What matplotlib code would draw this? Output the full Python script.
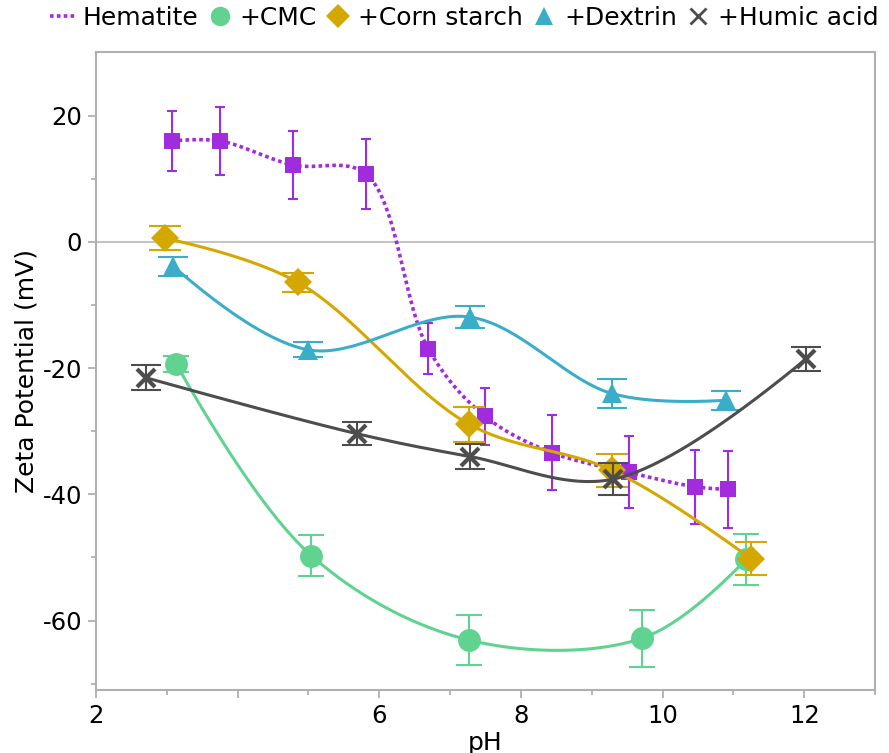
import numpy as np
import matplotlib
matplotlib.use("Agg")
import matplotlib.pyplot as plt
from matplotlib.lines import Line2D

plt.rcParams["font.family"] = "DejaVu Sans"

# data
hem_ph = [3.07, 3.75, 4.78, 5.81, 6.69, 7.49, 8.44, 9.52, 10.46, 10.92]
hem_zeta = [16.0, 16.0, 12.2, 10.8, -16.9, -27.6, -33.4, -36.5, -38.8, -39.2]
hem_err = [4.75, 5.4, 5.4, 5.5, 4.0, 4.5, 5.9, 5.7, 5.9, 6.1]

cmc_ph = [3.13, 5.04, 7.27, 9.71, 11.18]
cmc_zeta = [-19.3, -49.7, -63.1, -62.8, -50.3]
cmc_err = [1.3, 3.2, 4.0, 4.5, 4.0]

corn_ph = [2.97, 4.85, 7.27, 9.29, 11.25]
corn_zeta = [0.6, -6.4, -28.9, -36.2, -50.2]
corn_err = [1.9, 1.5, 2.8, 2.6, 2.6]

dex_ph = [3.09, 5.00, 7.28, 9.28, 10.89]
dex_zeta = [-3.85, -17.1, -11.9, -24.0, -25.1]
dex_err = [1.5, 1.2, 1.75, 2.3, 1.5]

hum_ph = [2.70, 5.69, 7.28, 9.30, 12.03]
hum_zeta = [-21.5, -30.4, -34.0, -37.6, -18.5]
hum_err = [2.0, 1.8, 1.95, 2.5, 1.9]

PURPLE = "#a12cdd"
GREEN = "#5fd38f"
GOLD = "#d4a800"
BLUE = "#3aaec9"
GRAY = "#4d4d4d"

# px per data unit, used so the spline is computed like plotly does (in pixel space)
SX, SY = 70.84, 6.315


def spline(x, y, smooth=1.0, nseg=40):
    pts = np.column_stack([np.asarray(x) * SX, np.asarray(y) * SY])
    n = len(pts)
    tan = []
    for i in range(1, n - 1):
        d1 = pts[i - 1] - pts[i]
        d2 = pts[i + 1] - pts[i]
        d1a = np.hypot(*d1) ** 0.5
        d2a = np.hypot(*d2) ** 0.5
        num = (d2a * d2a * d1 - d1a * d1a * d2) * smooth
        tan.append((pts[i] + num / (3 * d2a * (d1a + d2a)),
                    pts[i] - num / (3 * d1a * (d1a + d2a))))
    t = np.linspace(0, 1, nseg)[:, None]
    out = []
    # first segment: quadratic
    p0, c, p1 = pts[0], tan[0][0], pts[1]
    out.append((1 - t) ** 2 * p0 + 2 * (1 - t) * t * c + t ** 2 * p1)
    for i in range(2, n - 1):
        p0, c1, c2, p1 = pts[i - 1], tan[i - 2][1], tan[i - 1][0], pts[i]
        out.append((1 - t) ** 3 * p0 + 3 * (1 - t) ** 2 * t * c1
                   + 3 * (1 - t) * t ** 2 * c2 + t ** 3 * p1)
    p0, c, p1 = pts[n - 2], tan[n - 3][1], pts[n - 1]
    out.append((1 - t) ** 2 * p0 + 2 * (1 - t) * t * c + t ** 2 * p1)
    xy = np.vstack(out)
    return xy[:, 0] / SX, xy[:, 1] / SY


fig = plt.figure(figsize=(8.89, 7.53), dpi=100)
ax = fig.add_axes([0.108, 0.0837, 0.8763, 0.8472])

ax.axhline(0, color="#c4c4c4", lw=1.5, zorder=0.5)

series = [
    ("Hematite", hem_ph, hem_zeta, hem_err, PURPLE, "s", 12, (0, (1, 0.9)), 2.6, 3.3),
    ("+CMC", cmc_ph, cmc_zeta, cmc_err, GREEN, "o", 16.5, "-", 2.2, 9.5),
    ("+Corn starch", corn_ph, corn_zeta, corn_err, GOLD, "D", 14.5, "-", 2.2, 11.5),
    ("+Dextrin", dex_ph, dex_zeta, dex_err, BLUE, "^", 15, "-", 2.2, 10.5),
    ("+Humic acid", hum_ph, hum_zeta, hum_err, GRAY, "x", 13, "-", 2.2, 10.5),
]

handles = []
for k, (name, x, y, e, col, mk, ms, ls, lw, cap) in enumerate(series):
    z = 2 + k
    sx, sy = spline(x, y)
    ax.plot(sx, sy, color=col, ls=ls, lw=lw, zorder=z)
    ax.errorbar(x, y, yerr=e, fmt="none", ecolor=col, elinewidth=1.5,
                capsize=cap, capthick=1.5, zorder=z)
    ax.plot(x, y, ls="none", marker=mk, ms=ms, color=col,
            mew=3 if mk == "x" else 0, zorder=z + 0.5)
    if k == 0:
        handles.append(Line2D([], [], color=col, ls=ls, lw=lw, label=name))
    else:
        handles.append(Line2D([], [], color=col, ls="none", marker=mk,
                              ms=ms * 0.85, mew=2 if mk == "x" else 0, label=name))

ax.set_xlim(2, 13)
ax.set_ylim(-71, 30.1)
ax.set_xticks([2, 4, 6, 8, 10, 12])
ax.set_xticklabels(["2", "", "6", "8", "10", "12"])
ax.set_xticks(np.arange(3, 14, 2), minor=True)
ax.set_yticks([-60, -40, -20, 0, 20])
ax.set_yticklabels(["-60", "-40", "-20", "0", "20"])
ax.set_yticks([-70, -50, -30, -10, 10], minor=True)

for s in ax.spines.values():
    s.set_color("#b0b0b0")
    s.set_linewidth(1.5)
ax.tick_params(which="major", length=6, width=1.3, color="#b0b0b0",
               labelsize=17.5, pad=4)
ax.tick_params(which="minor", length=3.5, width=1.3, color="#b0b0b0")

ax.set_xlabel("pH", fontsize=18, labelpad=2)
ax.set_ylabel("Zeta Potential (mV)", fontsize=18, labelpad=3)

fig.legend(handles=handles, loc="center left", bbox_to_anchor=(50 / 889, 1 - 18 / 753),
           ncol=5, frameon=False, fontsize=18, handlelength=1.0,
           handletextpad=0.3, columnspacing=0.35, borderpad=0, borderaxespad=0)

fig.savefig("out.png", dpi=100)
